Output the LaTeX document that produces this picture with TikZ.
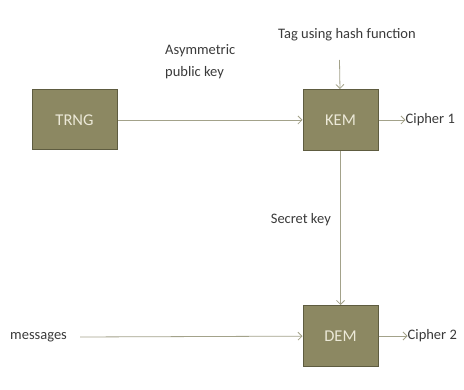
\documentclass[tikz,border=0pt]{standalone}
\usepackage{fontspec}
\setmainfont{Carlito}
\usepackage{tikz}
\usetikzlibrary{positioning,arrows.meta}
\definecolor{boxfill}{HTML}{8C8862}
\definecolor{boxedge}{HTML}{5E5C40}
\definecolor{boxtext}{HTML}{ECE9D8}
\definecolor{wire}{HTML}{A3A28A}
\definecolor{labtext}{HTML}{3A3A3A}
\tikzset{block/.style={rectangle,draw=boxedge,line width=1pt,fill=boxfill,text=boxtext,
		minimum width=75pt,minimum height=61pt,inner sep=0pt,font=\fontsize{16.5}{18}\selectfont},
	 lab/.style={text=labtext,inner sep=0pt,font=\fontsize{14.5}{22}\selectfont},
	 wireto/.style={draw=wire,line width=0.8pt,-{Straight Barb[length=4pt,width=8pt]}},
	 node distance = 185pt
	 }

\begin{document}
\begin{tikzpicture}[x=1pt,y=-1pt] % TRNG / KEM / DEM scheme
	\useasboundingbox (0,0) rectangle (464,390);
	\node[block,minimum width=85pt,minimum height=60pt] (trng) at (74.5,120) {TRNG};
	\node[block] (kem) [right= of trng] {KEM};
	\node[block] (dem) [below= 154pt of kem] {DEM};
	\node[lab,anchor=west] (c1) [right= 27pt of kem] {Cipher 1};
	\node[lab,anchor=west] (c2) [right= 29pt of dem] {Cipher 2};
	\node[lab] (tag) at (347,35) {Tag using hash function};
	\coordinate (tagin) at (339.5,60);
	\node[lab,anchor=west,align=left] (pk) at (165,62) {Asymmetric\\public key};
	\node[lab,anchor=east] (sk) at (331,220) {Secret key};
	\node[lab,anchor=west] (msg) at (10,337) {messages};
	\draw[wireto] (trng) to (kem);
	\draw[wireto] (tagin) to (kem);
	\draw[wireto] (kem) to (c1);
	\draw[wireto] (kem) to (dem);
	\draw[wireto] ([xshift=13pt]msg.east) to (dem);
	\draw[wireto] (dem) to (c2);
\end{tikzpicture}
\end{document}
